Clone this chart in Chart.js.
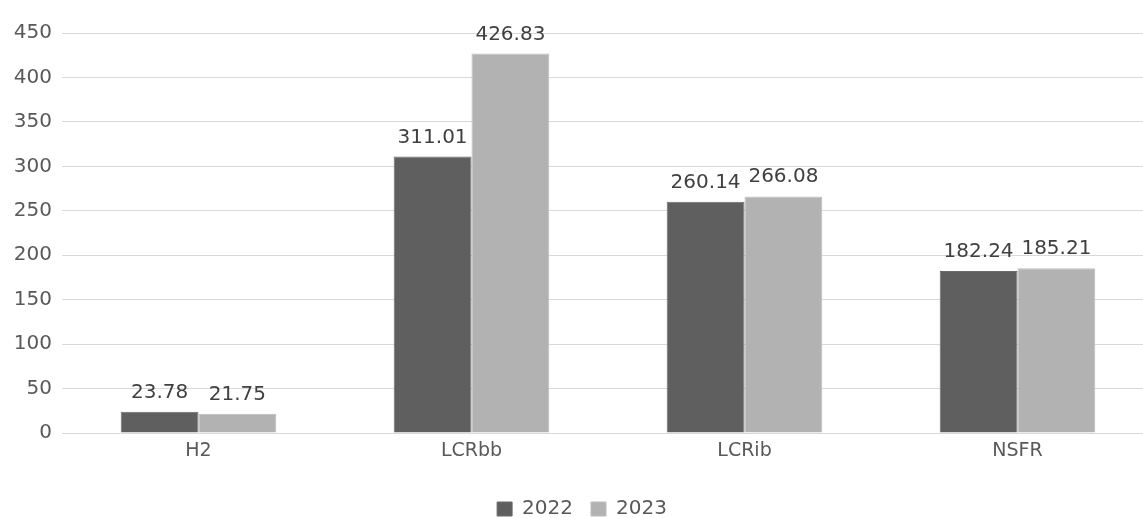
<!DOCTYPE html>
<html>
<head>
<meta charset="utf-8">
<script src="https://cdn.jsdelivr.net/npm/chart.js@4"></script>
<style>
html,body{margin:0;padding:0;background:#fff;overflow:hidden;}
#wrap{position:relative;width:1164px;height:518px;}
</style>
</head>
<body>
<div id="wrap"><canvas id="c"></canvas></div>
<script>
const categories = ["H2", "LCRbb", "LCRib", "NSFR"];
const values2022 = [23.78, 311.01, 260.14, 182.24];
const values2023 = [21.75, 426.83, 266.08, 185.21];
const seriesLabels = ["2022", "2023"];
const yTicks = [0, 50, 100, 150, 200, 250, 300, 350, 400, 450];

const FONT = "'DejaVu Sans', sans-serif";

const valueLabels = {
  id: 'valueLabels',
  afterDatasetsDraw(chart) {
    const ctx = chart.ctx;
    ctx.save();
    ctx.font = "20px " + FONT;
    ctx.fillStyle = "#404040";
    ctx.textAlign = "center";
    ctx.textBaseline = "alphabetic";
    chart.data.datasets.forEach((ds, i) => {
      const meta = chart.getDatasetMeta(i);
      meta.data.forEach((el, j) => {
        ctx.fillText(ds.data[j].toFixed(2), el.x, el.y - 14);
      });
    });
    ctx.restore();
  }
};

new Chart(document.getElementById('c'), {
  type: 'bar',
  data: {
    labels: categories,
    datasets: [
      { label: seriesLabels[0], data: values2022, backgroundColor: '#5f5f5f', borderColor: '#6a6a6a', borderWidth: 1 },
      { label: seriesLabels[1], data: values2023, backgroundColor: '#b2b2b2', borderColor: '#bcbcbc', borderWidth: 1 }
    ]
  },
  options: {
    responsive: true,
    maintainAspectRatio: false,
    animation: false,
    layout: { padding: { top: 33, left: 10, right: 10, bottom: -11 } },
    datasets: { bar: { categoryPercentage: 0.57, barPercentage: 1.0 } },
    plugins: {
      legend: {
        position: 'bottom',
        labels: {
          font: { family: FONT, size: 20 },
          color: '#595959',
          boxWidth: 15,
          boxHeight: 14,
          padding: 18
        }
      },
      tooltip: { enabled: false }
    },
    scales: {
      x: {
        grid: { display: false, drawTicks: false },
        border: { display: false },
        afterFit(scale) { scale.height = 48; },
        ticks: { font: { family: FONT, size: 19 }, color: '#595959', padding: 7 }
      },
      y: {
        min: 0, max: 450,
        afterBuildTicks(scale) { scale.ticks = yTicks.map(v => ({ value: v })); },
        afterFit(scale) { scale.width = 52; },
        grid: { color: '#d9d9d9', lineWidth: 1, drawTicks: false },
        border: { display: false },
        ticks: { font: { family: FONT, size: 20 }, color: '#595959', padding: 10 }
      }
    }
  },
  plugins: [valueLabels]
});
</script>
</body>
</html>
